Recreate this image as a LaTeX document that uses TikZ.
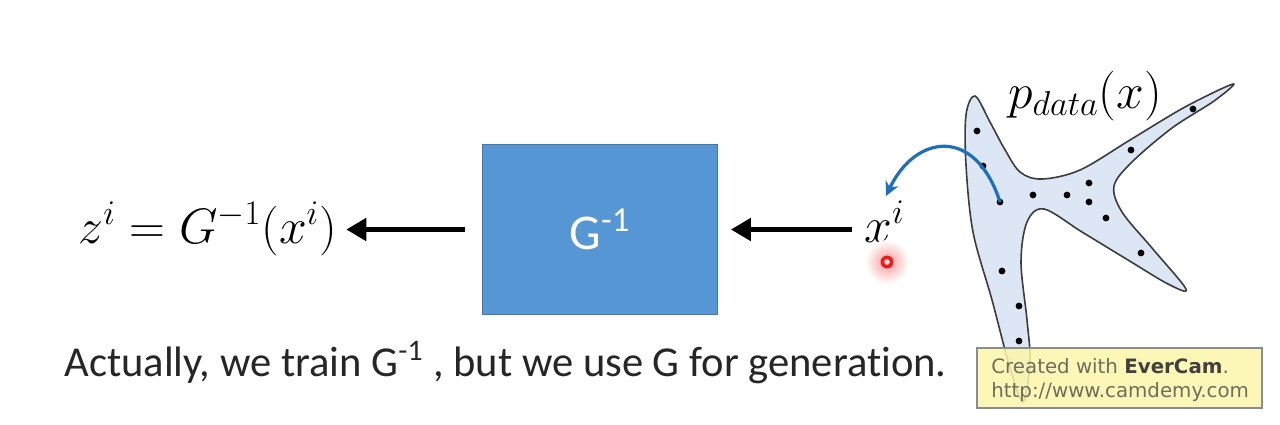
\documentclass[tikz,border=0pt]{standalone}
\usepackage{fontspec}
\setmainfont{Carlito}[Ligatures={NoCommon,TeX}]
\newfontfamily\dejavu{DejaVu Sans}
\usetikzlibrary{arrows.meta}
\definecolor{boxblue}{RGB}{86,150,213}
\definecolor{blobfill}{RGB}{220,230,244}
\definecolor{blobline}{RGB}{60,60,60}
\definecolor{curveblue}{RGB}{30,110,185}
\definecolor{wmfill}{RGB}{252,246,170}
\definecolor{wmtext}{RGB}{110,110,95}
\definecolor{dotred}{RGB}{235,30,30}
\begin{document}
\begin{tikzpicture}[x=0.5pt,y=-0.5pt,
  bigarrow/.style={line width=2.6pt,-{Triangle[length=10pt,width=11pt]}},
  dpt/.style={circle,fill=black,inner sep=0pt,minimum size=3.4pt},
  mathlbl/.style={inner sep=0pt,font=\fontsize{23}{27}\selectfont},
]
\useasboundingbox (0,0) rectangle (1280,424);
\fill[white] (0,0) rectangle (1280,424);

% G^{-1} box
\node[draw=boxblue!80!black,line width=0.4pt,fill=boxblue,minimum width=117.5pt,minimum height=85pt,inner sep=0pt,
  text=white,font=\fontsize{25}{30}\selectfont] (box) at (600,229.5) {G\textsuperscript{-1}};

% formulas
\node[mathlbl,anchor=base west] (z) at (78,243) {$z^i = G^{-1}(x^i)$};
\node[mathlbl,anchor=base west] (x) at (864,242) {$x^i$};

% black arrows
\draw[bigarrow,shorten <=6pt,shorten >=6.5pt] (x.west |- box.east) -- (box.east);
\draw[bigarrow,shorten <=8.5pt,shorten >=4.5pt] (box.west) -- (z.east |- box.west);

% blob
\fill[blobfill,draw=blobline,line width=0.8pt] plot[smooth cycle,tension=0.55] coordinates{
 (975,96) (990,122) (1004,148) (1020,172) (1042,179) (1080,170) (1130,140) (1185,107)
 (1233,84) (1214,101) (1172,128) (1132,162) (1114,186) (1122,212) (1152,248) (1186,289)
 (1168,284) (1128,260) (1082,232) (1044,209) (1027,222) (1021,262) (1027,320) (1030,362)
 (1023,402) (1010,368) (992,300) (973,232) (966,165) (966,115)};

% data points
\node[dpt] (d1) at (977,131) {};
\node[dpt] (d2) at (983,166) {};
\node[dpt] (d3) at (1000,202) {};
\node[dpt] (d4) at (1033,195) {};
\node[dpt] (d5) at (1067,195) {};
\node[dpt] (d6) at (1089,183) {};
\node[dpt] (d7) at (1089,202) {};
\node[dpt] (d8) at (1106,218) {};
\node[dpt] (d9) at (1131,150) {};
\node[dpt] (d10) at (1193,109) {};
\node[dpt] (d11) at (1141,253) {};
\node[dpt] (d12) at (1002,271) {};
\node[dpt] (d13) at (1019,306) {};
\node[dpt] (d14) at (1019,341) {};

\node[inner sep=0pt,anchor=base,font=\fontsize{23}{26}\selectfont] (p) at (1085,108) {$p_{data}(x)$};

% blue curved arrow
\draw[curveblue,line width=1.6pt,-{Stealth[length=7pt,width=7pt]}]
  (d3.center) .. controls (975,125) and (915,135) .. (886,196);

% red pointer dot
\node[circle,inner sep=0pt,minimum size=22pt,shading=radial,inner color=dotred!45,outer color=white,draw=none] (glow) at (887,262) {};
\node[circle,inner sep=0pt,minimum size=6.5pt,fill=dotred] (rd) at (glow.center) {};
\node[circle,inner sep=0pt,minimum size=2.8pt,fill=red!15] (rdc) at (rd.center) {};

% caption
\node[anchor=base west,inner sep=0pt,font=\fontsize{21.3}{25}\selectfont,text=black!85] (cap) at (64,376)
  {Actually, we train G\textsuperscript{-1} , but we use G for generation.};

% watermark
\node[draw=black!45,line width=0.6pt,fill=wmfill,fill opacity=0.85,text opacity=1,
  minimum width=142.5pt,minimum height=30pt,inner sep=0pt] (wm) at (1119.5,378) {};
\node[anchor=base west,inner sep=0pt,text=wmtext,font=\dejavu\fontsize{9.9}{11}\selectfont] (wm1) at (991,373)
  {Created with \textcolor{black!75}{\bfseries EverCam}.};
\node[anchor=base west,inner sep=0pt,text=wmtext,font=\dejavu\fontsize{9.9}{11}\selectfont] (wm2) at (991,397)
  {http://www.camdemy.com};
\end{tikzpicture}
\end{document}
